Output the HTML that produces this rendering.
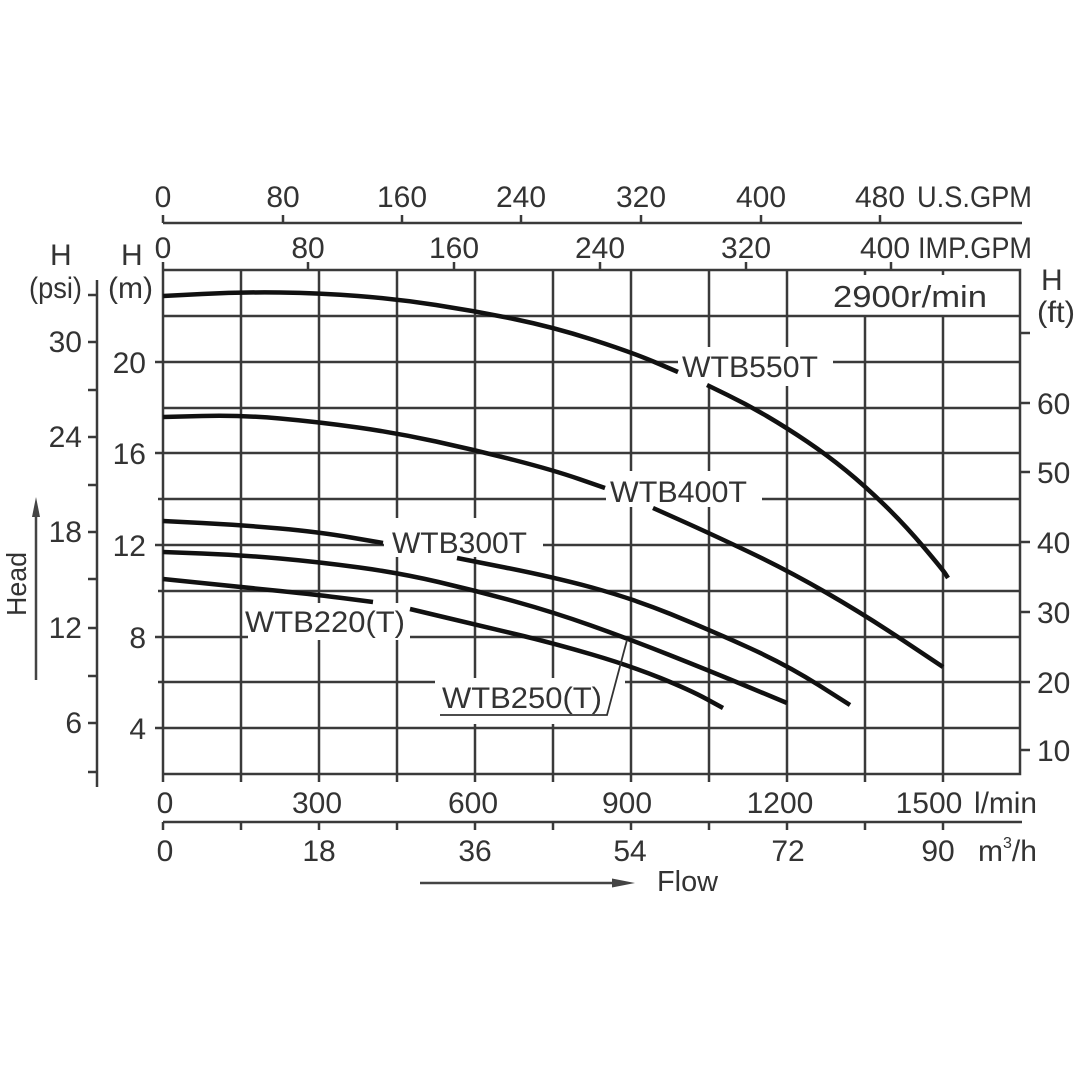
<!DOCTYPE html>
<html><head><meta charset="utf-8"><style>
html,body{margin:0;padding:0;background:#fff;}
svg{display:block;}
text{font-family:"Liberation Sans",Arial,sans-serif;fill:#333;}
</style></head><body>
<svg width="1080" height="1080" viewBox="0 0 1080 1080" xmlns="http://www.w3.org/2000/svg">
<rect width="1080" height="1080" fill="#fff"/>
<g stroke="#3a3a3a" stroke-width="2.5" fill="none">
<path d="M163 223H1022M163 215V223M283 215V223M402 215V223M521 215V223M641 215V223M761 215V223M880 215V223"/>
<path d="M163 262V270M308 262V270M454 262V270M600 262V270M746 262V270M891 262V270"/>
<path d="M163 316H1020M155 362H1020M163 408H1020M155 453H1020M158 499H1020M155 545H1020M158 591H1020M155 637H1020M158 682H1020M155 728H1020"/>
<path d="M241 270V782M319 270V782M397 270V782M475 270V782M553 270V782M631 270V782M709 270V782M787 270V782M865 316V782M943 316V782M865 270V275M943 270V275"/>
<path d="M163 270H1020V774H163M163 270V782"/>
<path d="M163 822H1022M163 822v8M241 822v8M319 822v8M397 822v8M475 822v8M553 822v8M631 822v8M709 822v8M787 822v8M865 822v8M943 822v8"/>
<path d="M1020 333h10M1020 403h10M1020 472h10M1020 542h10M1020 612h10M1020 682h10M1020 750h10"/>
<path d="M97 280V787M88 295h9M88 342h9M88 390h9M88 437h9M88 485h9M88 532h9M88 579h9M88 628h9M88 676h9M88 723h9M88 772h9"/>
</g>
<g fill="#fff">
<rect x="678" y="347" width="155" height="39"/>
<rect x="606" y="471" width="156" height="36"/>
<rect x="384" y="518" width="159" height="39"/>
<rect x="248" y="603" width="162" height="37"/>
<rect x="435" y="678" width="190" height="46"/>
</g>
<g stroke="#111" stroke-width="4.5" fill="none" stroke-linejoin="round">
<path d="M163,296 L202,294 Q241,292 280,292.5 Q319,293 358,296 Q397,299 436,305 Q475,311 514,319 Q553,327 592,339.5 Q631,352 654.5,362 L678,372"/>
<path d="M707,385 L727.5,395 Q748,405 767.5,416.5 Q787,428 807,441.5 Q827,455 846,470.5 Q865,486 885,505.5 Q905,525 924,547.5 Q943,570 945.5,574 L948,578"/>
<path d="M163,417 L202,416 Q241,415 280,418.5 Q319,422 358,427.5 Q397,433 436,441.5 Q475,450 514,460 Q553,470 579,479 L605,488"/>
<path d="M653,508 L681,520.5 Q709,533 748,551.5 Q787,570 826,592.5 Q865,615 904,641 L943,667"/>
<path d="M163,521 L202,523 Q241,525 280,528.5 Q319,532 351,537.5 L383,543"/>
<path d="M457,558 L505,567.5 Q553,577 592,587.5 Q631,598 670.5,614 Q710,630 748.5,647.5 Q787,665 818.5,685 L850,705"/>
<path d="M163,552 L202,553.5 Q241,555 280,558.5 Q319,562 359.5,567.5 Q400,573 438.5,582 Q477,591 515,601.5 Q553,612 591,625.5 Q629,639 669.5,655 Q710,671 748.5,687 L787,703"/>
<path d="M163,579 L202,583 Q241,587 280,591 Q319,595 346,598.5 L373,602"/>
<path d="M410,609 L443.5,617 Q477,625 515,634 Q553,643 592,654.5 Q631,666 660.5,678 Q690,690 706.5,699 L723,708"/>
</g>
<polyline points="440,715 607,715 627,640" stroke="#333" stroke-width="1.8" fill="none"/>
<g font-size="30" text-anchor="middle">
<text x="163" y="207">0</text><text x="283" y="207">80</text><text x="402" y="207">160</text><text x="521" y="207">240</text><text x="641" y="207">320</text><text x="761" y="207">400</text><text x="880" y="207">480</text>
<text x="163" y="258">0</text><text x="308" y="258">80</text><text x="454" y="258">160</text><text x="600" y="258">240</text><text x="746" y="258">320</text><text x="885" y="258">400</text>
<text x="165" y="813">0</text><text x="317" y="813">300</text><text x="473" y="813">600</text><text x="627" y="813">900</text><text x="780" y="813">1200</text><text x="929" y="813">1500</text>
<text x="165" y="861">0</text><text x="319" y="861">18</text><text x="475" y="861">36</text><text x="630" y="861">54</text><text x="788" y="861">72</text><text x="938" y="861">90</text>
</g>
<text x="917" y="207" font-size="30" textLength="115" lengthAdjust="spacingAndGlyphs">U.S.GPM</text>
<text x="918" y="258" font-size="30" textLength="114" lengthAdjust="spacingAndGlyphs">IMP.GPM</text>
<g font-size="30" style="fill:#1e1e1e">
<text x="682" y="377" textLength="136" lengthAdjust="spacingAndGlyphs">WTB550T</text>
<text x="610" y="502" textLength="137" lengthAdjust="spacingAndGlyphs">WTB400T</text>
<text x="392" y="553" textLength="135" lengthAdjust="spacingAndGlyphs">WTB300T</text>
<text x="245" y="632" textLength="160" lengthAdjust="spacingAndGlyphs">WTB220(T)</text>
<text x="442" y="708" textLength="160" lengthAdjust="spacingAndGlyphs">WTB250(T)</text>
</g>
<text x="833" y="307" font-size="31" textLength="154" lengthAdjust="spacingAndGlyphs">2900r/min</text>
<g font-size="30">
<text x="50" y="265">H</text>
<text x="29" y="298" textLength="53" lengthAdjust="spacingAndGlyphs">(psi)</text>
<text x="121" y="265">H</text>
<text x="108" y="298" textLength="45" lengthAdjust="spacingAndGlyphs">(m)</text>
<text x="1041" y="290">H</text>
<text x="1037" y="322" textLength="38" lengthAdjust="spacingAndGlyphs">(ft)</text>
<text x="1037" y="414">60</text><text x="1037" y="483">50</text><text x="1037" y="553">40</text><text x="1037" y="623">30</text><text x="1037" y="693">20</text><text x="1037" y="761">10</text>
<text x="974" y="813" textLength="63" lengthAdjust="spacingAndGlyphs">l/min</text>
<text x="978" y="861">m<tspan font-size="16" dy="-13">3</tspan><tspan dy="13">/h</tspan></text>
</g>
<g font-size="30" text-anchor="end">
<text x="82" y="352">30</text><text x="82" y="447">24</text><text x="82" y="542">18</text><text x="82" y="638">12</text><text x="82" y="733">6</text>
<text x="146" y="373">20</text><text x="146" y="464">16</text><text x="146" y="556">12</text><text x="146" y="648">8</text><text x="146" y="739">4</text>
</g>
<line x1="420" y1="883" x2="615" y2="883" stroke="#444" stroke-width="2.5"/>
<polygon points="635,883 612,878.5 612,887.5" fill="#444"/>
<text x="657" y="891" font-size="29" textLength="61" lengthAdjust="spacingAndGlyphs">Flow</text>
<line x1="36" y1="512" x2="36" y2="680" stroke="#444" stroke-width="2.5"/>
<polygon points="36,497 32,517 40,517" fill="#444"/>
<text transform="translate(26,584) rotate(-90)" font-size="28" text-anchor="middle" textLength="64" lengthAdjust="spacingAndGlyphs">Head</text>
</svg>
</body></html>
